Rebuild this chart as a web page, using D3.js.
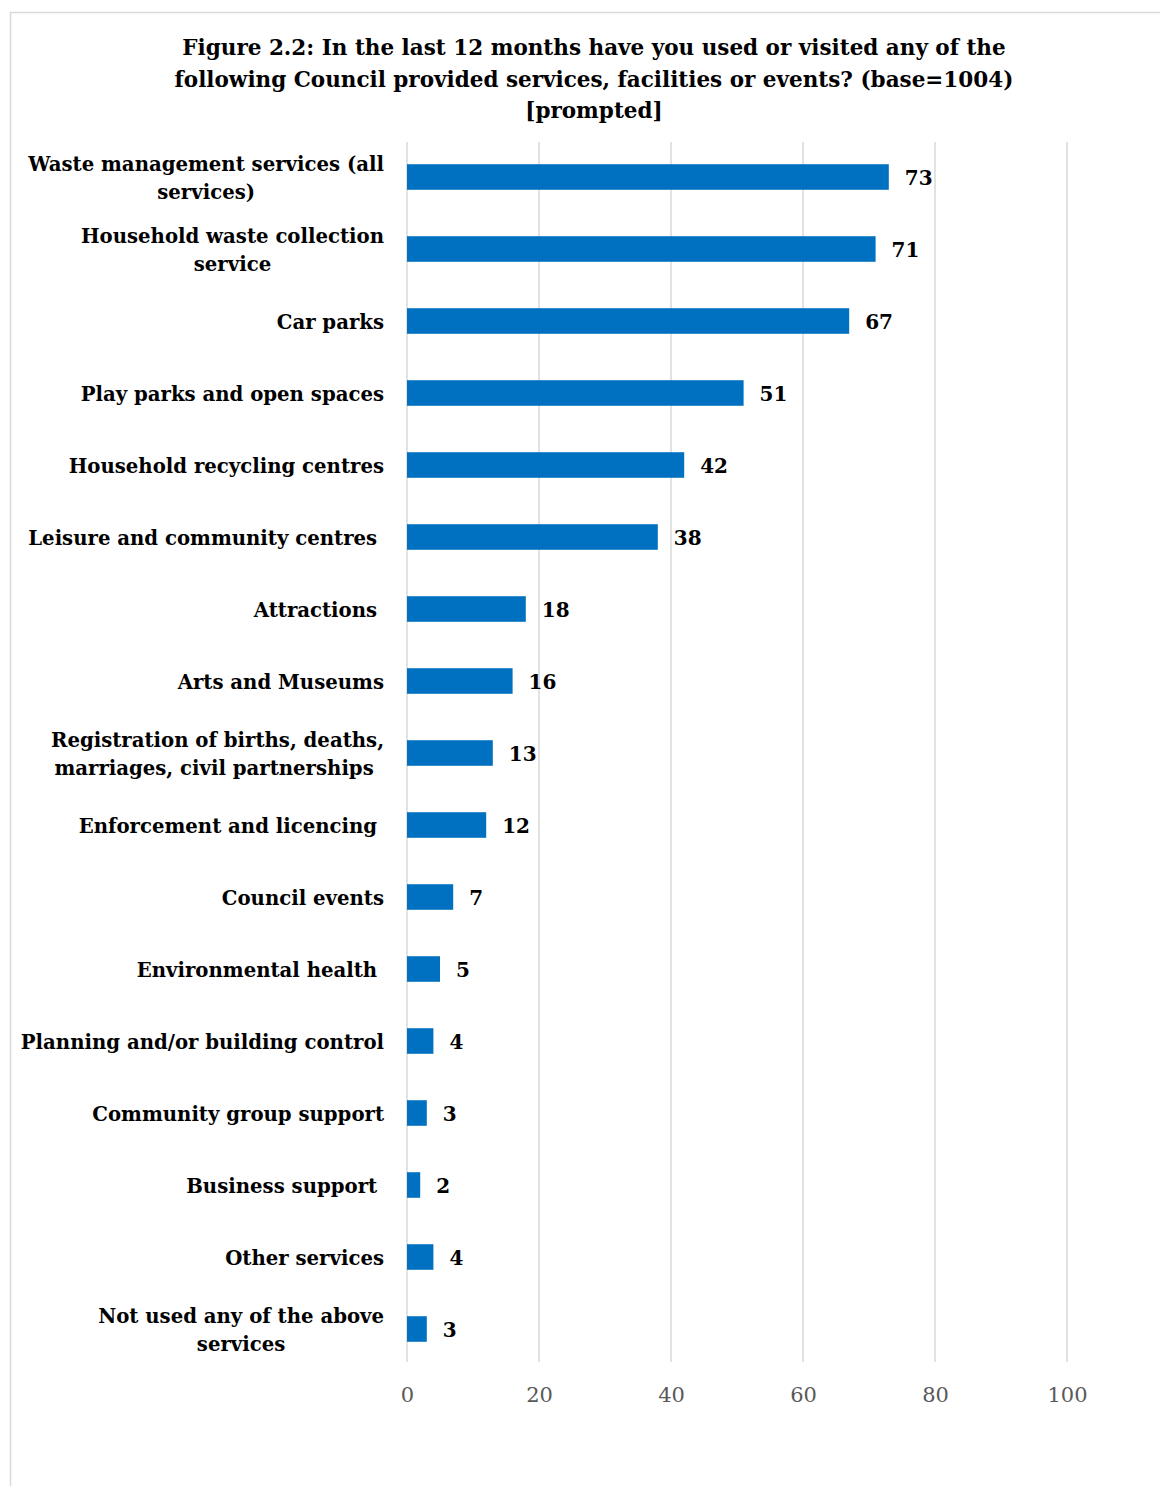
<!DOCTYPE html>
<html><head><meta charset="utf-8">
<script src="https://cdn.jsdelivr.net/npm/d3@7"></script>
<style>
html,body{margin:0;padding:0;background:#fff;}
svg{display:block;}
text{white-space:pre;}
</style></head>
<body>
<script>
const categories = [
  ["Waste management services (all", "services)"],
  ["Household waste collection", "service"],
  ["Car parks"],
  ["Play parks and open spaces"],
  ["Household recycling centres"],
  ["Leisure and community centres "],
  ["Attractions "],
  ["Arts and Museums"],
  ["Registration of births, deaths,", "marriages, civil partnerships "],
  ["Enforcement and licencing "],
  ["Council events"],
  ["Environmental health "],
  ["Planning and/or building control"],
  ["Community group support"],
  ["Business support "],
  ["Other services"],
  ["Not used any of the above", "services"]
];
const values = [73, 71, 67, 51, 42, 38, 18, 16, 13, 12, 7, 5, 4, 3, 2, 4, 3];
const tickValues = [0, 20, 40, 60, 80, 100];
const titleLines = [
  "Figure 2.2: In the last 12 months have you used or visited any of the",
  "following Council provided services, facilities or events? (base=1004)",
  "[prompted]"
];

const W = 1160, H = 1486;
const FONT = "'DejaVu Serif', serif";
const svg = d3.select("body").append("svg").attr("width", W).attr("height", H);

svg.append("rect").attr("x", 10.5).attr("y", 12.5).attr("width", W + 20).attr("height", H + 20)
  .attr("fill", "#fff").attr("stroke", "#d9d9d9").attr("stroke-width", 1.5);

svg.append("g").selectAll("text").data(titleLines).join("text")
  .attr("x", 594).attr("y", (d, i) => 47.5 + i * 31.5).attr("dy", "0.35em")
  .attr("text-anchor", "middle").attr("font-family", FONT).attr("font-weight", "bold")
  .attr("font-size", 21.5).attr("fill", "#000").text(d => d);

const keys = categories.map((c, i) => i);
const x = d3.scaleLinear().domain([0, 100]).range([407, 1067]);
const y = d3.scaleBand().domain(keys).range([141, 1365]).paddingInner(0.645).paddingOuter(0.3225);

// gridlines
svg.append("g").selectAll("line").data(tickValues).join("line")
  .attr("x1", d => x(d)).attr("x2", d => x(d)).attr("y1", 142).attr("y2", 1362)
  .attr("stroke", "#d9d9d9").attr("stroke-width", 1.5);

// x axis tick labels
const xAxis = d3.axisBottom(x).tickValues(tickValues).tickSize(0).tickPadding(0).tickFormat(d3.format("d"));
const gx = svg.append("g").attr("transform", "translate(0,1387)").call(xAxis);
gx.select(".domain").remove();
gx.selectAll("text").attr("font-family", FONT).attr("font-size", 21).attr("fill", "#595959");

// bars
svg.append("g").selectAll("rect").data(values).join("rect")
  .attr("x", x(0)).attr("y", (d, i) => y(i)).attr("width", d => x(d) - x(0))
  .attr("height", y.bandwidth()).attr("fill", "#0070c0");

// value labels
svg.append("g").selectAll("text").data(values).join("text")
  .attr("x", d => x(d) + 16).attr("y", (d, i) => y(i) + y.bandwidth() / 2 + 1).attr("dy", "0.35em")
  .attr("font-family", FONT).attr("font-weight", "bold").attr("font-size", 20).attr("fill", "#000")
  .text(d => d);

// category labels
const lg = svg.append("g");
categories.forEach((lines, i) => {
  const cy = y(i) + y.bandwidth() / 2 + 1;
  const lh = 28;
  const texts = lines.map((l, j) => lg.append("text")
    .attr("y", cy + (j - (lines.length - 1) / 2) * lh).attr("dy", "0.35em")
    .attr("font-family", FONT).attr("font-weight", "bold").attr("font-size", 19.7).attr("fill", "#000")
    .attr("text-anchor", "middle").text(l));
  const maxW = d3.max(texts, t => t.node().getComputedTextLength());
  texts.forEach(t => t.attr("x", 384 - maxW / 2));
});
</script>
</body></html>
